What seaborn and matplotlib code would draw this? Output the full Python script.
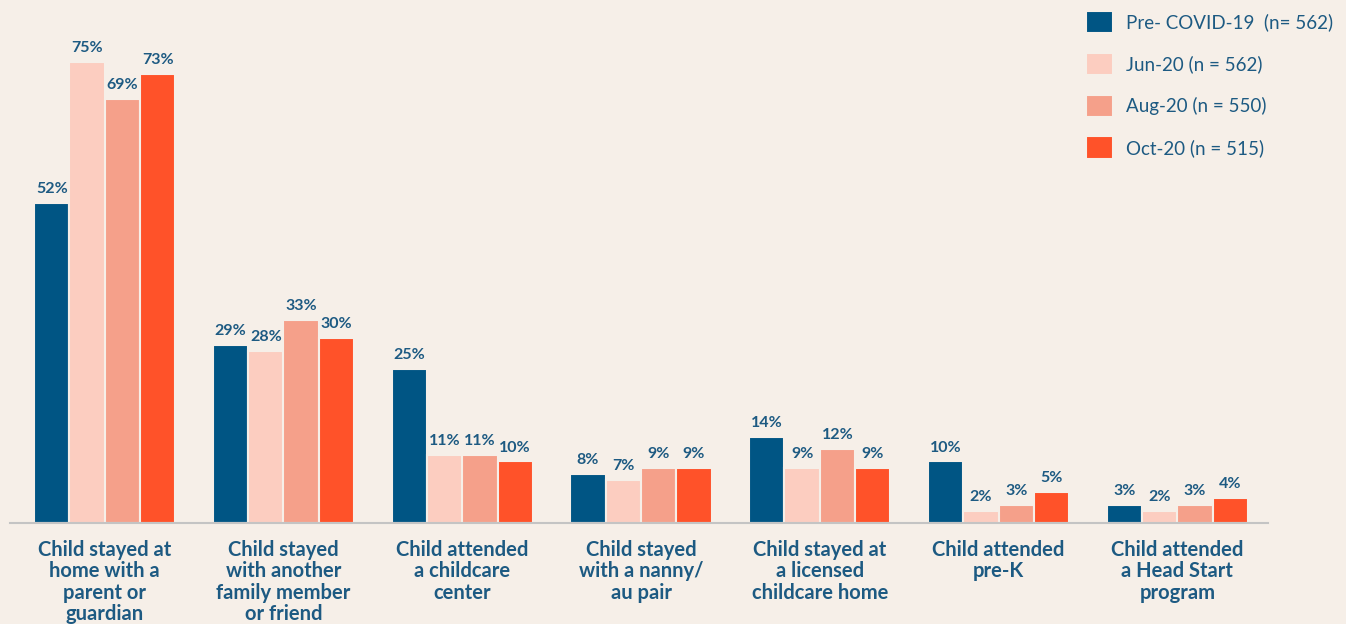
import numpy as np
import pandas as pd
import matplotlib
matplotlib.use("Agg")
import matplotlib.pyplot as plt
import seaborn as sns

categories = [
    "Child stayed at\nhome with a\nparent or\nguardian",
    "Child stayed\nwith another\nfamily member\nor friend",
    "Child attended\na childcare\ncenter",
    "Child stayed\nwith a nanny/\nau pair",
    "Child stayed at\na licensed\nchildcare home",
    "Child attended\npre-K",
    "Child attended\na Head Start\nprogram",
]
series = ["Pre- COVID-19  (n= 562)", "Jun-20 (n = 562)", "Aug-20 (n = 550)", "Oct-20 (n = 515)"]
pre_covid = [52, 29, 25, 8, 14, 10, 3]
jun_20 = [75, 28, 11, 7, 9, 2, 2]
aug_20 = [69, 33, 11, 9, 12, 3, 3]
oct_20 = [73, 30, 10, 9, 9, 5, 4]

colors = ["#005584", "#fccdc0", "#f5a08a", "#ff5229"]
bg = "#f6efe8"
txt = "#1d5a82"

df = pd.DataFrame({
    "category": categories * 4,
    "series": np.repeat(series, len(categories)),
    "value": pre_covid + jun_20 + aug_20 + oct_20,
})

sns.set_theme(style="white")
plt.rcParams["font.family"] = ["Lato", "DejaVu Sans"]

fig = plt.figure(figsize=(13.46, 6.24), dpi=100, facecolor=bg)
ax = fig.add_axes([0.0074, 0.1619, 0.935, 0.83])
ax.set_facecolor(bg)

sns.barplot(data=df, x="category", y="value", hue="series", palette=colors, saturation=1,
            width=0.79, edgecolor=bg, linewidth=1.5, ax=ax, legend=True)

for c in ax.containers:
    ax.bar_label(c, fmt="%d%%", padding=5, fontsize=11.5, fontweight="bold", color=txt)

ax.set_ylim(0, 84.2)
ax.set_xlim(-0.53, 6.51)
ax.set_xlabel("")
ax.set_ylabel("")
ax.set_yticks([])
ax.tick_params(axis="x", length=0, pad=12)
for lab in ax.get_xticklabels():
    lab.set_fontsize(14.5)
    lab.set_fontweight("bold")
    lab.set_color(txt)
    lab.set_linespacing(1.1)
    lab.set_verticalalignment("top")
for s in ["top", "right", "left"]:
    ax.spines[s].set_visible(False)
ax.spines["bottom"].set_color("#c4c4c4")
ax.spines["bottom"].set_linewidth(1.5)

leg = ax.legend(loc="upper left", bbox_to_anchor=(0.7945, 1.01), bbox_transform=fig.transFigure,
                frameon=False, fontsize=13.5, handlelength=1.45, handleheight=1.45,
                labelspacing=1.05, handletextpad=0.65)
for t in leg.get_texts():
    t.set_color(txt)

fig.savefig("out.png", dpi=100, facecolor=bg)
